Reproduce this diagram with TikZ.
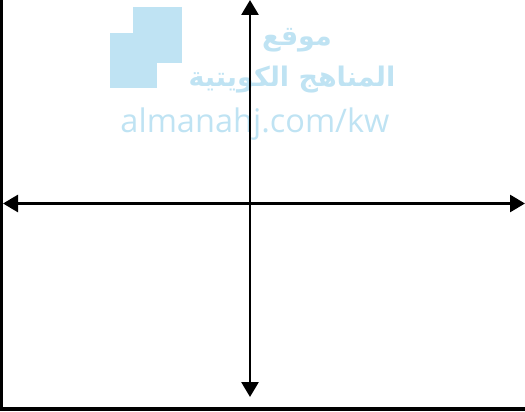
\documentclass[tikz,border=0pt]{standalone}
\usepackage{fontspec}
\usetikzlibrary{arrows.meta}
\TeXXeTstate=1
\newfontfamily\arabicfont[Script=Arabic]{DejaVu Sans}
\newfontfamily\wmfont{Open Sans}
\definecolor{wm}{HTML}{BFE3F3}
\tikzset{
  axis/.style={line width=2.8pt, {Triangle[length=15pt,width=17pt]}-{Triangle[length=15pt,width=17pt]}},
  frame/.style={line width=3.2pt},
  wmtext/.style={text=wm, inner sep=0pt}
}
\begin{document}
\begin{tikzpicture}[x=1pt,y=-1pt]
\useasboundingbox (0,0) rectangle (525,412);
% watermark
\fill[wm] (133.3,6.7) rectangle (181.7,63.3);
\fill[wm] (110,33.3) rectangle (156.7,88.3);
\node[wmtext, font=\arabicfont\bfseries\fontsize{27}{30}\selectfont] (wm1) at (297,40) {\beginR موقع\endR};
\node[wmtext, font=\arabicfont\bfseries\fontsize{27}{30}\selectfont] (wm2) at (292,80) {\beginR المناهج الكويتية\endR};
\node[wmtext, font=\wmfont\fontsize{32.5}{35}\selectfont] (wm3) at (255,124) {almanahj.com/kw};
% frame
\coordinate (TL) at (1.5,0);
\coordinate (BL) at (1.5,409);
\coordinate (BR) at (525,409);
\draw[frame] (TL) -- (BL) -- (BR);
% axes
\coordinate (xl) at (3,203.5);
\coordinate (xr) at (525,203.5);
\coordinate (yt) at (250,0);
\coordinate (yb) at (250,397);
\draw[axis] (xl) -- (xr);
\draw[axis] (yt) -- (yb);
\end{tikzpicture}
\end{document}
